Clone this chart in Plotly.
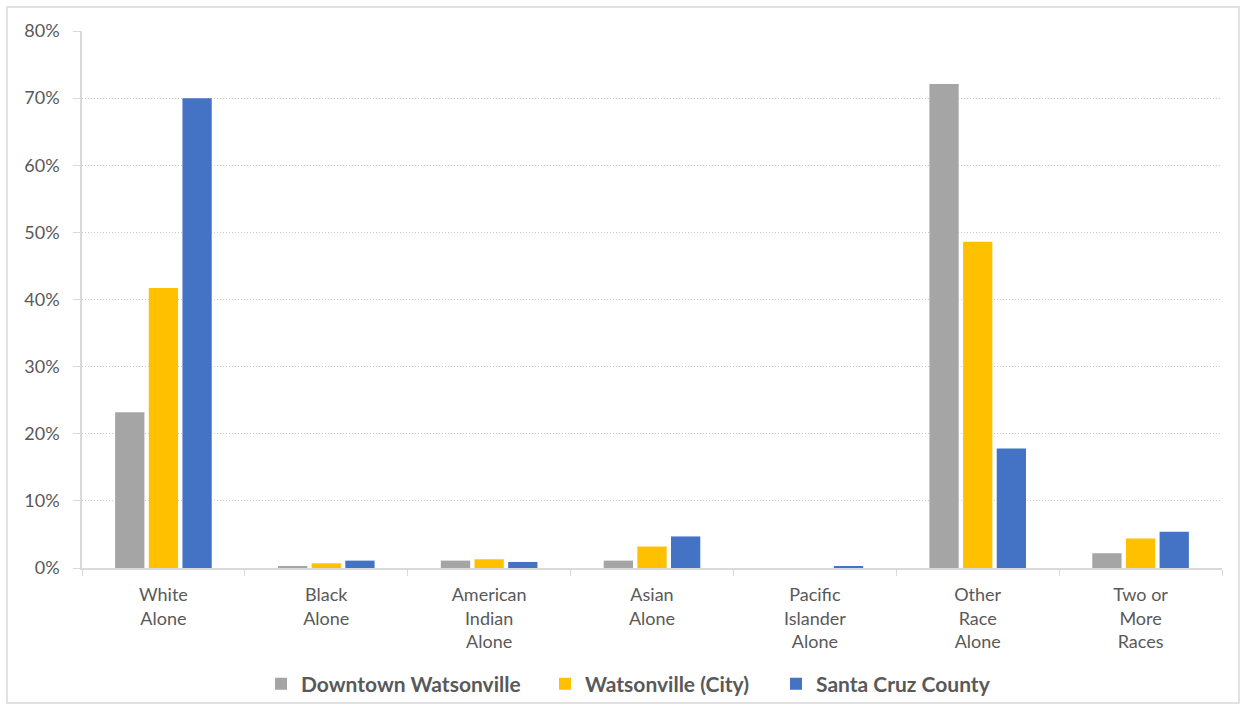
import plotly.graph_objects as go

categories = ["White<br>Alone", "Black<br>Alone", "American<br>Indian<br>Alone", "Asian<br>Alone",
              "Pacific<br>Islander<br>Alone", "Other<br>Race<br>Alone", "Two or<br>More<br>Races"]
downtown = [23.2, 0.2, 1.1, 1.1, 0.0, 72.1, 2.2]
city = [41.7, 0.7, 1.3, 3.2, 0.0, 48.6, 4.4]
county = [70.0, 1.1, 0.9, 4.7, 0.2, 17.8, 5.4]
series_names = ["Downtown Watsonville", "Watsonville (City)", "Santa Cruz County"]
colors = ["#a5a5a5", "#ffc000", "#4472c4"]
y_ticks = [0, 10, 20, 30, 40, 50, 60, 70, 80]

legend_ids = ["legend", "legend2", "legend3"]
legend_px = [261, 545, 776]  # legend box left edges in pixels

fig = go.Figure()
for name, vals, col, lid in zip(series_names, [downtown, city, county], colors, legend_ids):
    fig.add_trace(go.Bar(x=categories, y=vals, name=name, marker_color=col,
                         marker_line_width=0, hoverinfo="x+y", legend=lid))

W, H, ML, MR, MT, MB = 1241, 710, 82, 19, 31, 142
plot_w = W - ML - MR
plot_h = H - MT - MB
legend_font = dict(size=21, color="#595959", family="Lato, sans-serif", weight="bold")
legend_cfg = {}
for lid, px in zip(legend_ids, legend_px):
    legend_cfg[lid] = dict(orientation="h", x=px / W, xref="container", xanchor="left",
                           y=(H - 684) / H, yref="container", yanchor="middle",
                           font=legend_font, itemwidth=30, bgcolor="rgba(0,0,0,0)")

fig.update_layout(
    width=W, height=H,
    margin=dict(l=ML, r=MR, t=MT, b=MB, autoexpand=False),
    paper_bgcolor="white", plot_bgcolor="white",
    barmode="group", bargap=0.38, bargroupgap=0.13,
    font=dict(family="Lato, Noto Sans, sans-serif", color="#595959", size=18),
    showlegend=True,
    **legend_cfg,
)
fig.update_yaxes(range=[0, 80], tickvals=y_ticks, ticktext=[f"{v}%" for v in y_ticks],
                 showgrid=True, gridcolor="#c8c8c8", griddash="1px,2px", gridwidth=1,
                 showline=True, linecolor="#d9d9d9", linewidth=1.5,
                 ticks="outside", ticklen=7, tickcolor="#d9d9d9", zeroline=False,
                 ticklabelstandoff=10, automargin=False,
                 tickfont=dict(size=18), fixedrange=True)
fig.update_xaxes(showline=True, linecolor="#d9d9d9", linewidth=1.5,
                 ticks="outside", ticklen=6, tickcolor="#d9d9d9", tickson="boundaries",
                 ticklabelstandoff=10, automargin=False,
                 tickfont=dict(size=18), showgrid=False, fixedrange=True)
fig.add_shape(type="rect", xref="paper", yref="paper", x0=(7 - ML) / plot_w, x1=(1239 - ML) / plot_w,
              y0=(568 - 703) / plot_h, y1=(568 - 7) / plot_h, line=dict(color="#d9d9d9", width=1.5), layer="below")

fig.write_html("out.html")
